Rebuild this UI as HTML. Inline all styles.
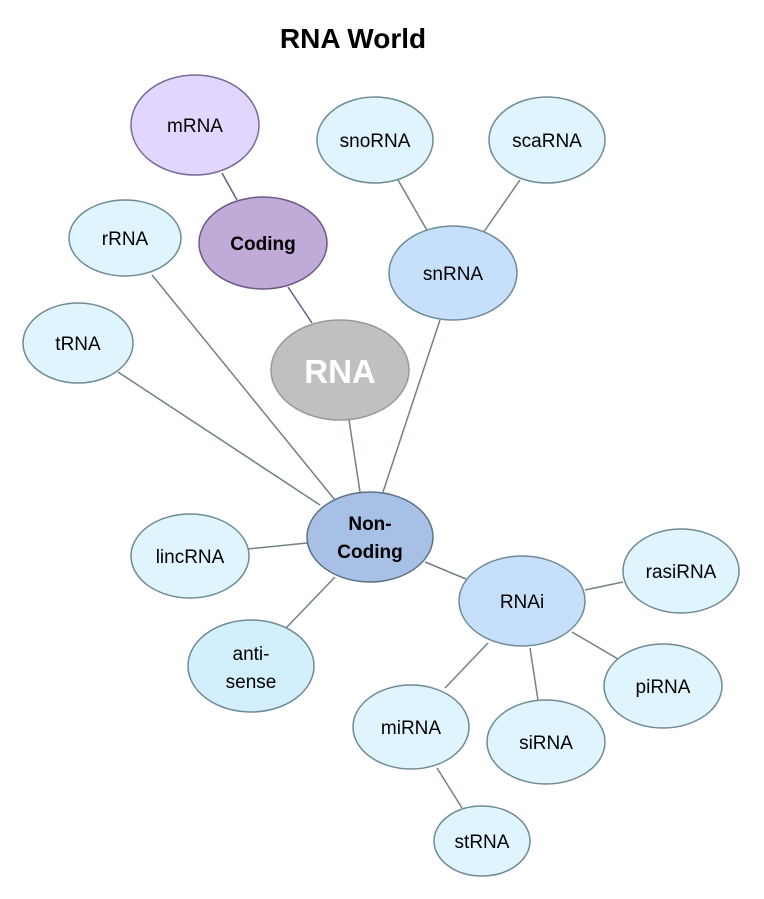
<!DOCTYPE html>
<html><head><meta charset="utf-8"><style>body{margin:0;background:#fff}svg{display:block}</style></head><body>
<svg width="764" height="899" viewBox="0 0 764 899" xmlns="http://www.w3.org/2000/svg" font-family="Liberation Sans, Arial, sans-serif">
<rect width="764" height="899" fill="#fff"/>
<text x="353" y="48" text-anchor="middle" font-size="28" font-weight="bold">RNA World</text>
<g stroke="#6f8288" stroke-width="1.5">
<line x1="222" y1="173" x2="237" y2="200" stroke="#6a5a86"/>
<line x1="288" y1="287" x2="312" y2="323" stroke="#6a5a86"/>
<line x1="398" y1="180" x2="428" y2="232"/>
<line x1="520" y1="180" x2="483" y2="233"/>
<line x1="440" y1="320" x2="383" y2="492"/>
<line x1="152" y1="275" x2="335" y2="500"/>
<line x1="118" y1="372" x2="320" y2="505"/>
<line x1="349" y1="420" x2="360" y2="492"/>
<line x1="248" y1="549" x2="307" y2="543"/>
<line x1="286" y1="628" x2="335" y2="577"/>
<line x1="425" y1="562" x2="466" y2="579"/>
<line x1="585" y1="590" x2="623" y2="582"/>
<line x1="572" y1="632" x2="618" y2="659"/>
<line x1="488" y1="643" x2="445" y2="688"/>
<line x1="530" y1="648" x2="538" y2="700"/>
<line x1="437" y1="768" x2="462" y2="808"/>
</g>
<g stroke-width="1.5" font-size="19" text-anchor="middle">
<ellipse cx="195" cy="125" rx="64" ry="50" fill="#e2d6fe" stroke="#7a6a9a"/>
<text x="195" y="132">mRNA</text>
<ellipse cx="263" cy="243" rx="64" ry="46" fill="#bfaad8" stroke="#6a5a86"/>
<text x="263" y="250" font-weight="bold">Coding</text>
<g fill="#e0f4fe" stroke="#6f8a96">
<ellipse cx="375" cy="140" rx="58" ry="43"/>
<ellipse cx="547" cy="140" rx="58" ry="43"/>
<ellipse cx="125" cy="238" rx="56" ry="38"/>
<ellipse cx="78" cy="343" rx="55" ry="40"/>
<ellipse cx="190" cy="556" rx="59" ry="42"/>
<ellipse cx="681" cy="571" rx="58" ry="42"/>
<ellipse cx="663" cy="686" rx="59" ry="42"/>
<ellipse cx="411" cy="727" rx="58" ry="42"/>
<ellipse cx="546" cy="742" rx="59" ry="42"/>
<ellipse cx="482" cy="841" rx="48" ry="35"/>
<ellipse cx="251" cy="666" rx="63" ry="46" fill="#d3effc"/>
<ellipse cx="453" cy="273" rx="64" ry="47" fill="#c6e0fc"/>
<ellipse cx="522" cy="601" rx="63" ry="45" fill="#c6e0fc"/>
</g>
<ellipse cx="340" cy="370" rx="69" ry="50" fill="#c0c0c0" stroke="#999"/>
<ellipse cx="370" cy="537" rx="63" ry="45" fill="#a9c0e6" stroke="#5f7080"/>
<text x="375" y="147">snoRNA</text>
<text x="547" y="147">scaRNA</text>
<text x="125" y="245">rRNA</text>
<text x="78" y="350">tRNA</text>
<text x="453" y="280">snRNA</text>
<text x="340" y="383" font-size="33" font-weight="bold" fill="#fff">RNA</text>
<text x="370" y="530" font-weight="bold">Non-</text>
<text x="370" y="558" font-weight="bold">Coding</text>
<text x="190" y="563">lincRNA</text>
<text x="251" y="660">anti-</text>
<text x="251" y="688">sense</text>
<text x="522" y="608">RNAi</text>
<text x="681" y="578">rasiRNA</text>
<text x="663" y="693">piRNA</text>
<text x="411" y="734">miRNA</text>
<text x="546" y="749">siRNA</text>
<text x="482" y="848">stRNA</text>
</g>
</svg>
</body></html>
